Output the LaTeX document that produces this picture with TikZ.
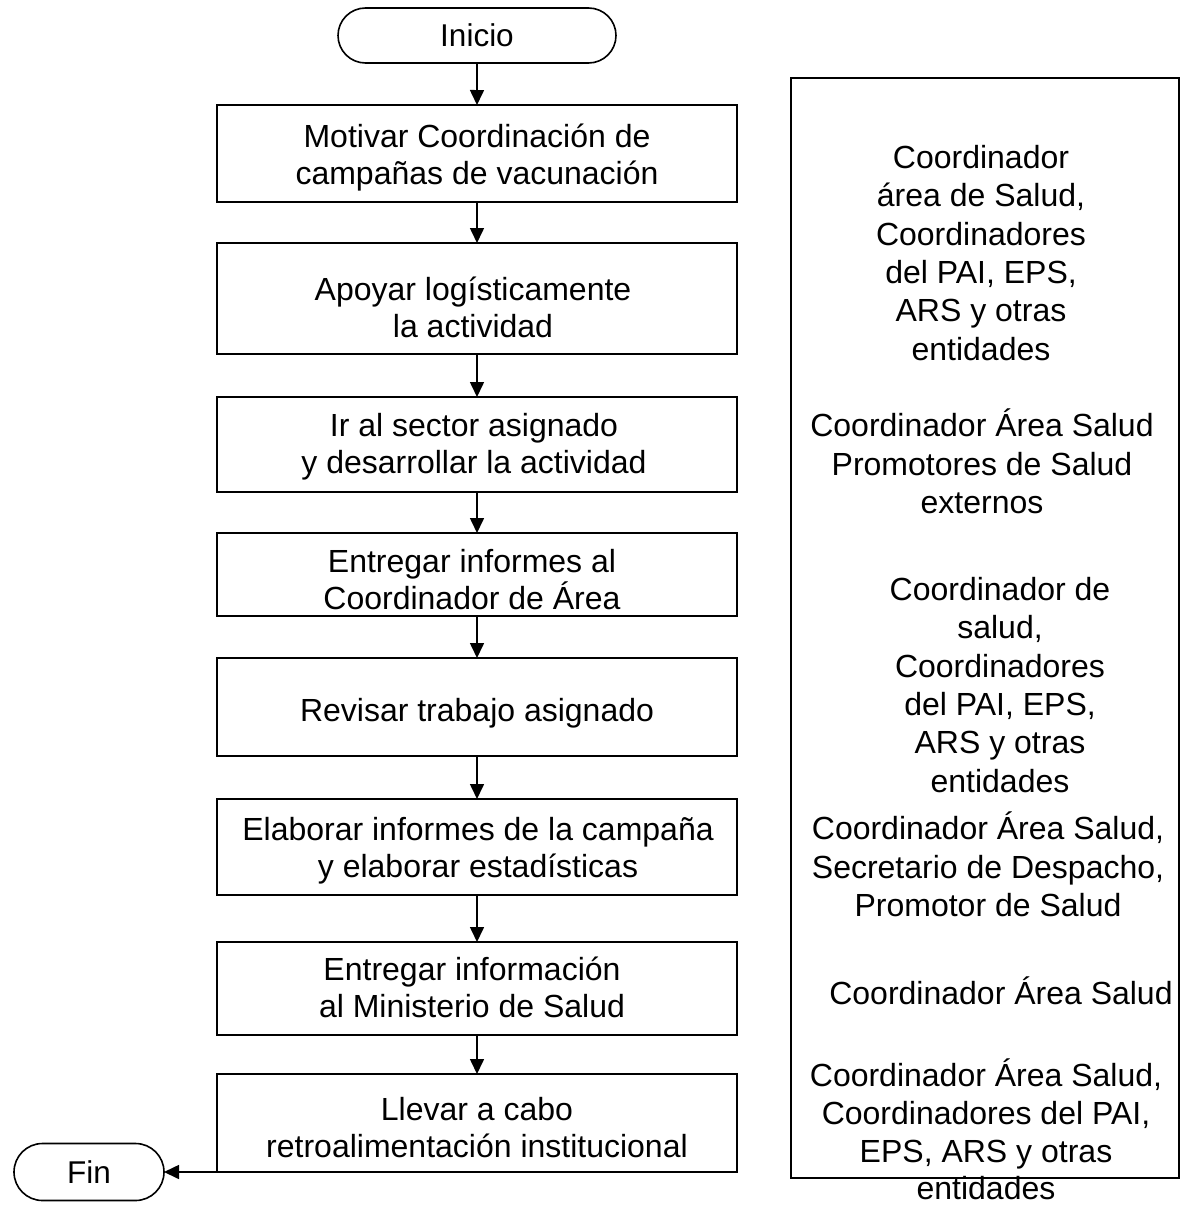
\documentclass[tikz,border=0pt]{standalone}
\usepackage{fontspec}
\setmainfont{Liberation Sans}
\usetikzlibrary{arrows.meta,shapes.misc}
\begin{document}
\begin{tikzpicture}[x=1pt,y=-1pt,
  every node/.style={inner sep=0pt, outer sep=0pt},
  lw/.style={line width=1.6pt},
  procbox/.style={draw, lw, minimum width=520pt},
  boxtxt/.style={align=center, font=\fontsize{32}{37}\selectfont,
    execute at begin node=\strut, execute at end node=\strut},
  resptxt/.style={align=center, font=\fontsize{32}{38.3}\selectfont,
    execute at begin node=\strut, execute at end node=\strut},
  term/.style={draw, lw, rounded rectangle, font=\fontsize{31.5}{37}\selectfont},
  flow/.style={lw, -{Triangle[length=15pt,width=14pt]}}]
\useasboundingbox (0,0) rectangle (1180,1207);

% terminals
\node[term, minimum width=278pt, minimum height=55pt] (ini) at (477,35.5) {Inicio};
\node[term, minimum width=150pt, minimum height=57pt] (fin) at (89,1172) {Fin};

% process boxes
\node[procbox, minimum height=97pt]  (b1) at (477,153.5) {};
\node[procbox, minimum height=111pt] (b2) at (477,298.5) {};
\node[procbox, minimum height=95pt]  (b3) at (477,444.5) {};
\node[procbox, minimum height=83pt]  (b4) at (477,574.5) {};
\node[procbox, minimum height=98pt]  (b5) at (477,707) {};
\node[procbox, minimum height=96pt]  (b6) at (477,847) {};
\node[procbox, minimum height=93pt]  (b7) at (477,988.5) {};
\node[procbox, minimum height=98pt]  (b8) at (477,1123) {};

\node[boxtxt] (t1) at (477,160) {Motivar Coordinación de\\campañas de vacunación};
\node[boxtxt] (t2) at (473,313) {Apoyar logísticamente\\la actividad};
\node[boxtxt] (t3) at (474,448.5) {Ir al sector asignado\\y desarrollar la actividad};
\node[boxtxt] (t4) at (472,584.5) {Entregar informes al\\Coordinador de Área};
\node[boxtxt] (t5) at (477,714) {Revisar trabajo asignado};
\node[boxtxt] (t6) at (478,853) {Elaborar informes de la campaña\\y elaborar estadísticas};
\node[boxtxt] (t7) at (472,992.5) {Entregar información\\al Ministerio de Salud};
\node[boxtxt] (t8) at (477,1133) {Llevar a cabo\\retroalimentación institucional};

% responsible column
\node[draw, lw, minimum width=388pt, minimum height=1100pt] (resp) at (985,628) {};
\node[resptxt] (r1) at (981,258.5) {Coordinador\\área de Salud,\\Coordinadores\\del PAI, EPS,\\ARS y otras\\entidades};
\node[resptxt] (r2) at (982,467) {Coordinador Área Salud\\Promotores de Salud\\externos};
\node[resptxt] (r3) at (1000,690.5) {Coordinador de\\salud,\\Coordinadores\\del PAI, EPS,\\ARS y otras\\entidades};
\node[resptxt] (r4) at (988,870) {Coordinador Área Salud,\\Secretario de Despacho,\\Promotor de Salud};
\node[resptxt] (r5) at (1001,996) {Coordinador Área Salud};
\node[resptxt, font=\fontsize{32}{37.6}\selectfont] (r6) at (986,1135) {Coordinador Área Salud,\\Coordinadores del PAI,\\EPS, ARS y otras\\entidades};

% connectors
\draw[flow] (ini) -- (b1);
\draw[flow] (b1) -- (b2);
\draw[flow] (b2) -- (b3);
\draw[flow] (b3) -- (b4);
\draw[flow] (b4) -- (b5);
\draw[flow] (b5) -- (b6);
\draw[flow] (b6) -- (b7);
\draw[flow] (b7) -- (b8);
\draw[flow] (b8.south west) -- (fin.east);
\end{tikzpicture}
\end{document}
